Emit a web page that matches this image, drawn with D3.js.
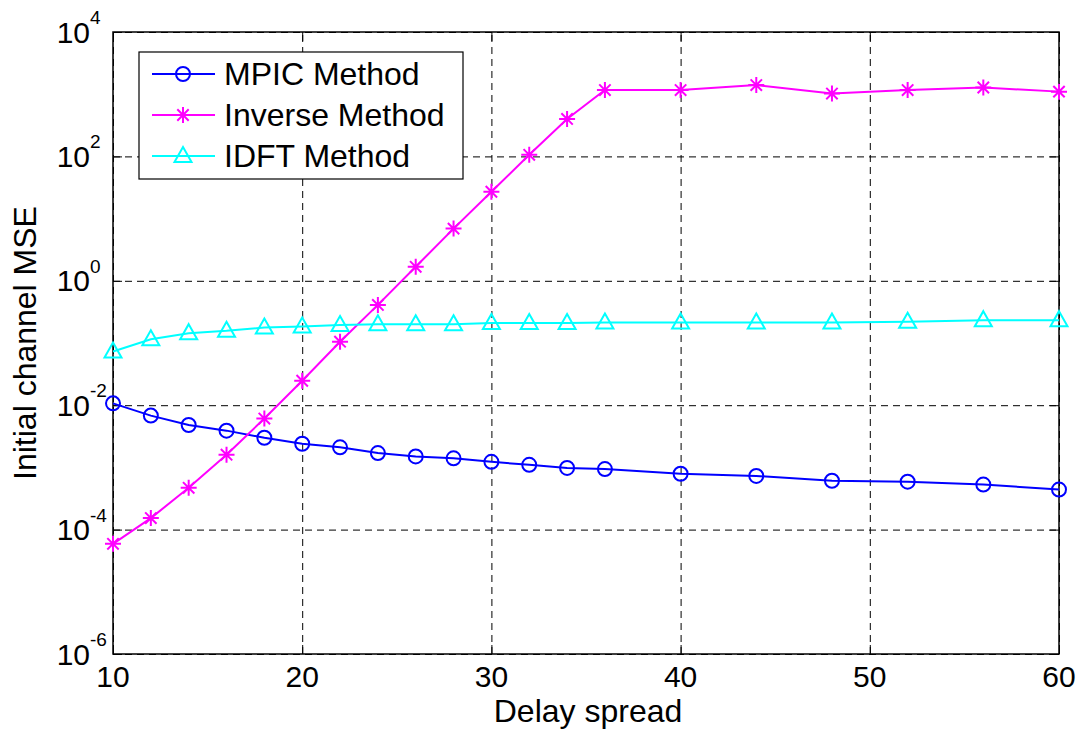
<!DOCTYPE html>
<html>
<head>
<meta charset="utf-8">
<script src="https://cdn.jsdelivr.net/npm/d3@7"></script>
<style>
  body { margin: 0; background: #fff; }
  text { font-family: "Liberation Sans", Arial, sans-serif; fill: #000; }
  .grid line { stroke: #000; stroke-width: 1; stroke-dasharray: 7,5; }
  .grid path { display: none; }
  .ticks path { display: none; }
  .ticks line { stroke: #000; stroke-width: 1; }
</style>
</head>
<body>
<div id="chart"></div>
<script>
var width = 1084,
    height = 733;

var margin = {top: 32, right: 25, bottom: 79, left: 113},
    w = width - margin.left - margin.right,
    h = height - margin.top - margin.bottom;

// data
var delay = [10, 12, 14, 16, 18, 20, 22, 24, 26, 28, 30, 32, 34, 36, 40, 44, 48, 52, 56, 60];
var mpic = [0.0107, 0.0068, 0.0048, 0.0039, 0.0030, 0.0024, 0.0021, 0.0017, 0.0015, 0.0014,
            0.00123, 0.0011, 0.00098, 0.00094, 0.00079, 0.00073, 0.00061, 0.00059, 0.00053, 0.00044];
var inverse = [5.9e-5, 1.53e-4, 4.7e-4, 1.6e-3, 6.1e-3, 0.0247, 0.105, 0.41, 1.68, 6.9,
               27, 106, 400, 1165, 1165, 1400, 1025, 1165, 1280, 1100];
var idft = [0.073, 0.115, 0.144, 0.157, 0.177, 0.184, 0.194, 0.20, 0.20, 0.20,
            0.209, 0.209, 0.209, 0.214, 0.214, 0.214, 0.214, 0.22, 0.233, 0.233];

var xTicks = [10, 20, 30, 40, 50, 60];
var yTicks = [1e-6, 1e-4, 1e-2, 1e0, 1e2, 1e4];

var seriesNames = ["MPIC Method", "Inverse Method", "IDFT Method"];
var seriesColors = ["#0000ff", "#ff00ff", "#00ffff"];
var seriesMarkers = ["circle", "asterisk", "triangle"];
var seriesValues = [mpic, inverse, idft];

var svg = d3.select("#chart").append("svg")
    .attr("width", width)
    .attr("height", height),
    g = svg.append("g").attr("transform", "translate(" + margin.left + "," + margin.top + ")");

var x = d3.scaleLinear().domain([10, 60]).range([0, w]);
var y = d3.scaleLog().domain([1e-6, 1e4]).range([h, 0]);

// grid
g.append("g").attr("class", "grid")
    .attr("transform", "translate(0," + h + ")")
    .call(d3.axisBottom(x).tickValues(xTicks).tickSize(-h).tickFormat(""));
g.append("g").attr("class", "grid")
    .call(d3.axisLeft(y).tickValues(yTicks).tickSize(-w).tickFormat(""));

// inner ticks on all four sides
g.append("g").attr("class", "ticks")
    .attr("transform", "translate(0," + h + ")")
    .call(d3.axisBottom(x).tickValues(xTicks).tickSize(-9).tickFormat(""));
g.append("g").attr("class", "ticks")
    .call(d3.axisTop(x).tickValues(xTicks).tickSize(-9).tickFormat(""));
g.append("g").attr("class", "ticks")
    .call(d3.axisLeft(y).tickValues(yTicks).tickSize(-9).tickFormat(""));
g.append("g").attr("class", "ticks")
    .attr("transform", "translate(" + w + ",0)")
    .call(d3.axisRight(y).tickValues(yTicks).tickSize(-9).tickFormat(""));

g.append("rect")
    .attr("width", w)
    .attr("height", h)
    .attr("fill", "none")
    .attr("stroke", "#000")
    .attr("stroke-width", 1.5);

// tick labels
g.append("g").selectAll("text")
    .data(xTicks)
    .enter().append("text")
      .attr("x", function(d) { return x(d); })
      .attr("y", h + 33)
      .attr("text-anchor", "middle")
      .attr("font-size", 30)
      .text(function(d) { return d; });

var ylab = g.append("g").selectAll("g")
    .data(yTicks)
    .enter().append("g")
      .attr("transform", function(d) { return "translate(-23," + y(d) + ")"; });
ylab.append("text")
    .attr("y", 10.5)
    .attr("text-anchor", "end")
    .attr("font-size", 30)
    .text("10");
ylab.append("text")
    .attr("x", 0)
    .attr("y", -8)
    .attr("font-size", 19)
    .text(function(d) { return Math.round(Math.log10(d)); });

// axis titles
g.append("text")
    .attr("x", w / 2 + 2)
    .attr("y", h + 68)
    .attr("text-anchor", "middle")
    .attr("font-size", 32)
    .text("Delay spread");

g.append("text")
    .attr("transform", "translate(-77," + (h / 2) + ") rotate(-90)")
    .attr("text-anchor", "middle")
    .attr("font-size", 32)
    .text("Initial channel MSE");

// markers
function drawMarker(sel, type, color) {
  if (type == "circle") {
    sel.append("circle").attr("r", 7)
      .attr("fill", "none").attr("stroke", color).attr("stroke-width", 2);
  } else if (type == "triangle") {
    sel.append("path").attr("d", "M0,-9L8.5,6L-8.5,6Z")
      .attr("fill", "none").attr("stroke", color).attr("stroke-width", 2);
  } else {
    sel.append("path").attr("d", "M0,-8V8M-8,0H8M-5.7,-5.7L5.7,5.7M-5.7,5.7L5.7,-5.7")
      .attr("fill", "none").attr("stroke", color).attr("stroke-width", 2);
  }
}

var line = d3.line()
    .x(function(d, i) { return x(delay[i]); })
    .y(function(d) { return y(d); });

seriesValues.forEach(function(vals, k) {
  var s = g.append("g");
  s.append("path")
      .datum(vals)
      .attr("fill", "none")
      .attr("stroke", seriesColors[k])
      .attr("stroke-width", 2)
      .attr("d", line);
  s.selectAll("g")
      .data(vals)
      .enter().append("g")
        .attr("transform", function(d, i) { return "translate(" + x(delay[i]) + "," + y(d) + ")"; })
        .each(function() { drawMarker(d3.select(this), seriesMarkers[k], seriesColors[k]); });
});

// legend
var legend = svg.append("g").attr("transform", "translate(139,52)");
legend.append("rect")
    .attr("width", 324)
    .attr("height", 127)
    .attr("fill", "#fff")
    .attr("stroke", "#000")
    .attr("stroke-width", 1.2);

var item = legend.selectAll("g")
    .data(seriesNames)
    .enter().append("g")
      .attr("transform", function(d, i) { return "translate(0," + (22 + i * 41) + ")"; });
item.append("line")
    .attr("x1", 13).attr("x2", 76)
    .attr("stroke", function(d, i) { return seriesColors[i]; })
    .attr("stroke-width", 2);
item.each(function(d, i) {
  var m = d3.select(this).append("g").attr("transform", "translate(44,0)");
  drawMarker(m, seriesMarkers[i], seriesColors[i]);
});
item.append("text")
    .attr("x", 85)
    .attr("y", 11)
    .attr("font-size", 32)
    .text(function(d) { return d; });
</script>
</body>
</html>
